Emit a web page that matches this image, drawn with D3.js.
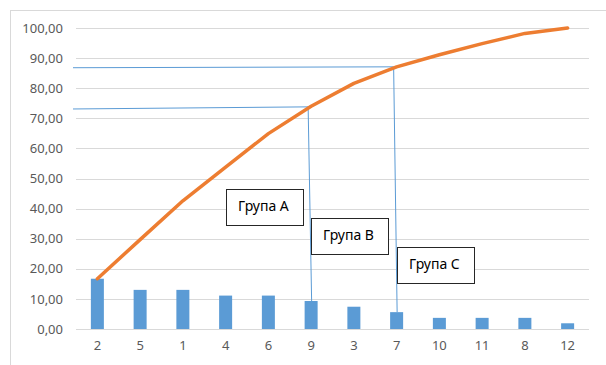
<!DOCTYPE html>
<html>
<head>
<meta charset="utf-8">
<script src="https://cdn.jsdelivr.net/npm/d3@7"></script>
<style>
  body { margin: 0; background: #fff; }
  text { font-family: "Noto Sans", "Open Sans", sans-serif; }
</style>
</head>
<body>
<div id="chart"></div>
<script>
// DATA
const categories = ["2", "5", "1", "4", "6", "9", "3", "7", "10", "11", "8", "12"];
const shares = [16.7, 13.0, 13.0, 11.1, 11.1, 9.3, 7.4, 5.6, 3.7, 3.7, 3.7, 1.9];
const cumulative = [16.7, 29.7, 42.6, 53.8, 64.9, 74.0, 81.6, 87.1, 91.1, 94.8, 98.2, 100];
const yTicks = [0, 10, 20, 30, 40, 50, 60, 70, 80, 90, 100];
// guide lines: from the axis at "from" level to category at "to" level, then down to the bar
const guides = [
    { cat: "9", from: 73.1, to: 73.8 },
    { cat: "7", from: 86.8, to: 87.1 }
];
// text boxes, placed by category and value of the box top
const boxes = [
    { label: "Група A", cat: "4", level: 46.5 },
    { label: "Група B", cat: "9", level: 36.9 },
    { label: "Група C", cat: "7", level: 27.3 }
];

const w = 606, h = 365;
const margin = { top: 28, right: 17, bottom: 36, left: 76 };

const svg = d3.select("#chart").append("svg")
    .attr("width", w)
    .attr("height", h);

// outer chart border
svg.append("rect")
    .attr("x", 10.5).attr("y", 10.5)
    .attr("width", 600).attr("height", 360)
    .attr("fill", "none")
    .attr("stroke", "#d9d9d9");

// SCALES
const x = d3.scaleBand()
    .domain(categories)
    .range([margin.left, w - margin.right]);

const y = d3.scaleLinear()
    .domain([0, 100])
    .range([h - margin.bottom, margin.top]);

// GRID
svg.append("g")
    .selectAll("line")
    .data(yTicks).enter().append("line")
    .attr("x1", margin.left).attr("x2", w - margin.right)
    .attr("y1", d => Math.round(y(d)) + 0.5)
    .attr("y2", d => Math.round(y(d)) + 0.5)
    .attr("stroke", "#d9d9d9");

// AXES
const fmt = d => d.toFixed(2).replace(".", ",");

const yAxis = svg.append("g")
    .attr("transform", "translate(" + (margin.left - 13) + ",0)")
    .call(d3.axisLeft(y).tickValues(yTicks).tickFormat(fmt).tickSize(0).tickPadding(0));
yAxis.select(".domain").remove();
yAxis.selectAll("text")
    .attr("font-size", 13)
    .attr("fill", "#595959")
    .style("font-family", "'Noto Sans', sans-serif");

const xAxis = svg.append("g")
    .attr("transform", "translate(0," + (h - margin.bottom) + ")")
    .call(d3.axisBottom(x).tickSize(0).tickPadding(12));
xAxis.select(".domain").remove();
xAxis.selectAll("text")
    .attr("font-size", 13)
    .attr("fill", "#595959")
    .style("font-family", "'Noto Sans', sans-serif");

// BARS
const barW = 13;
svg.append("g")
    .selectAll("rect")
    .data(shares).enter().append("rect")
    .attr("x", (d, i) => x(categories[i]) + x.bandwidth() / 2 - barW / 2)
    .attr("y", d => y(d))
    .attr("width", barW)
    .attr("height", d => y(0) - y(d))
    .attr("fill", "#5b9bd5");

// GUIDE LINES
const cx = c => x(c) + x.bandwidth() / 2;
const guideG = svg.append("g")
    .attr("fill", "none")
    .attr("stroke", "#5b9bd5")
    .attr("stroke-width", 1);
guides.forEach(g => {
    const i = categories.indexOf(g.cat);
    guideG.append("path")
        .attr("d", d3.line()([
            [margin.left - 3, y(g.from)],
            [cx(g.cat) - 3, y(g.to)],
            [cx(g.cat) + 0.5, y(shares[i])]
        ]));
});

// CUMULATIVE LINE
const line = d3.line()
    .x((d, i) => cx(categories[i]))
    .y(d => y(d));

svg.append("path")
    .datum(cumulative)
    .attr("d", line)
    .attr("fill", "none")
    .attr("stroke", "#ed7d31")
    .attr("stroke-width", 3.5)
    .attr("stroke-linejoin", "round")
    .attr("stroke-linecap", "round");

// LABEL BOXES
const boxW = 77, boxH = 36;
boxes.forEach(b => {
    const bx = Math.round(cx(b.cat)), by = Math.round(y(b.level));
    const g = svg.append("g").attr("transform", "translate(" + bx + "," + by + ")");
    g.append("rect")
        .attr("x", 0.5).attr("y", 0.5)
        .attr("width", boxW).attr("height", boxH)
        .attr("fill", "#fff")
        .attr("stroke", "#262626");
    g.append("text")
        .attr("x", 12).attr("y", 22)
        .attr("font-size", 14)
        .attr("fill", "#000")
        .text(b.label);
});
</script>
</body>
</html>
